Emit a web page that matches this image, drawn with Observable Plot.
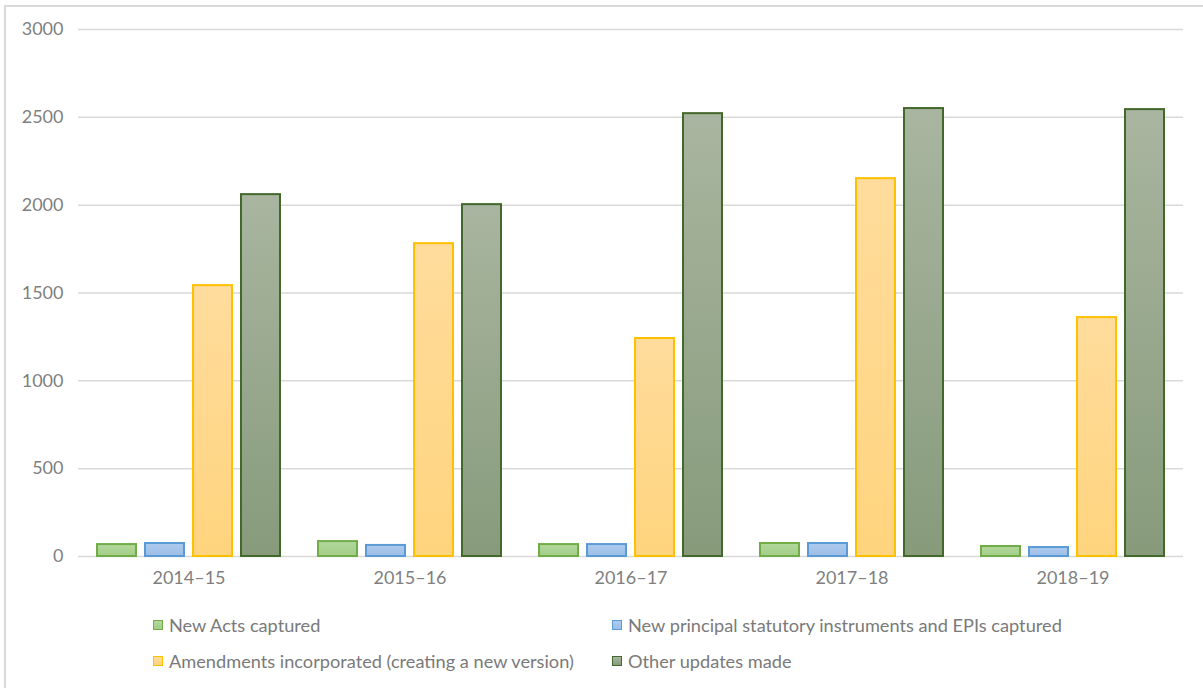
<!DOCTYPE html>
<html>
<head>
<meta charset="utf-8">
<script src="https://cdn.jsdelivr.net/npm/d3@7"></script>
<script src="https://cdn.jsdelivr.net/npm/@observablehq/plot@0.6"></script>
<style>
  html, body { margin: 0; padding: 0; background: #fff; }
  body { width: 1203px; height: 688px; overflow: hidden; position: relative; font-family: Lato, "Open Sans", sans-serif; }
  #frame { position: absolute; left: 4px; top: 5px; width: 1210px; height: 700px; border-top: 2px solid #d9d9d9; border-left: 2px solid #d9d9d9; box-sizing: border-box; }
  #chart { position: absolute; left: 0; top: 0; }
  .legend { position: absolute; font-size: 18.2px; color: #7a7a7a; display: flex; align-items: center; white-space: nowrap; }
  .sw { width: 8px; height: 8px; border: 1.5px solid; margin-right: 6px; display: inline-block; }
</style>
</head>
<body>
<div id="frame"></div>
<div id="chart"></div>
<div id="legend"></div>
<script>
const years = ["2014–15", "2015–16", "2016–17", "2017–18", "2018–19"];
const seriesNames = [
  "New Acts captured",
  "New principal statutory instruments and EPIs captured",
  "Amendments incorporated (creating a new version)",
  "Other updates made"
];
const newActs      = [68, 85, 68, 74, 57];
const newSIs       = [74, 63, 68, 74, 51];
const amendments   = [1542, 1781, 1241, 2151, 1360];
const otherUpdates = [2060, 2003, 2521, 2550, 2544];
const yTicks = [0, 500, 1000, 1500, 2000, 2500, 3000];

const seriesValues = [newActs, newSIs, amendments, otherUpdates];
const strokes = ["#70AD47", "#5B9BD5", "#FFC000", "#43682B"];
const gradStops = [
  ["#B2D89C", "#A3CD87"],
  ["#AECBEE", "#9BBDE6"],
  ["#FFDC9C", "#FFD47E"],
  ["#A9B5A0", "#879B7B"]
];

const table = [];
years.forEach((yr, i) => {
  seriesNames.forEach((s, j) => table.push({year: yr, series: s, value: seriesValues[j][i], idx: j}));
});

const barMarks = seriesNames.map((s, j) => Plot.barY(table.filter(d => d.idx === j), {
  fx: "year", x: "series", y: "value",
  fill: `url(#grad${j})`, stroke: strokes[j], strokeWidth: 2
}));

const plot = Plot.plot({
  width: 1203,
  height: 600,
  marginTop: 29,
  marginBottom: 44,
  marginLeft: 76,
  marginRight: 19,
  style: {fontFamily: "Lato, 'Open Sans', sans-serif", fontSize: "18px", color: "#7f7f7f", background: "transparent"},
  fx: {domain: years, padding: 0, label: null},
  x: {domain: seriesNames, paddingInner: 0.196, paddingOuter: 0.376, axis: null},
  y: {domain: [0, 3000], label: null},
  marks: [
    Plot.ruleY(yTicks, {stroke: "#d9d9d9", strokeWidth: 1.5}),
    ...barMarks,
    Plot.axisY(yTicks, {tickSize: 0, tickPadding: 15, label: null, fill: "#7f7f7f", fontSize: 18, tickFormat: d => String(d)}),
    Plot.axisFx({tickSize: 0, tickPadding: 15, label: null, fill: "#7f7f7f", fontSize: 18, anchor: "bottom"})
  ]
});

// gradient definitions
const ns = "http://www.w3.org/2000/svg";
const defs = document.createElementNS(ns, "defs");
gradStops.forEach((st, j) => {
  const lg = document.createElementNS(ns, "linearGradient");
  lg.setAttribute("id", `grad${j}`);
  lg.setAttribute("x1", "0"); lg.setAttribute("y1", "0");
  lg.setAttribute("x2", "0"); lg.setAttribute("y2", "1");
  st.forEach((c, k) => {
    const stop = document.createElementNS(ns, "stop");
    stop.setAttribute("offset", k === 0 ? "0" : "1");
    stop.setAttribute("stop-color", c);
    lg.appendChild(stop);
  });
  defs.appendChild(lg);
});
plot.insertBefore(defs, plot.firstChild);
document.getElementById("chart").appendChild(plot);

// legend
const legendPos = [[153, 626], [612, 626], [153, 662], [612, 662]];
const legend = document.getElementById("legend");
seriesNames.forEach((s, j) => {
  const item = document.createElement("div");
  item.className = "legend";
  item.style.left = legendPos[j][0] + "px";
  item.style.top = (legendPos[j][1] - 12) + "px";
  const sw = document.createElement("span");
  sw.className = "sw";
  sw.style.borderColor = strokes[j];
  sw.style.background = `linear-gradient(${gradStops[j][0]}, ${gradStops[j][1]})`;
  item.appendChild(sw);
  item.appendChild(document.createTextNode(s));
  legend.appendChild(item);
});
</script>
</body>
</html>
